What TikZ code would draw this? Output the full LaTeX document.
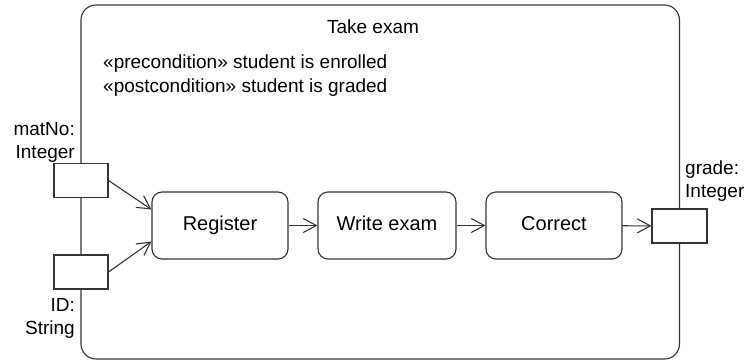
\documentclass[tikz,border=0pt]{standalone}
\usepackage{fontspec}
\setmainfont{Liberation Sans}
\usetikzlibrary{arrows.meta}
\begin{document}
\begin{tikzpicture}[x=1pt,y=-1pt,
  line/.style={draw=black!80,line width=1.1pt},
  txt/.style={font=\fontsize{19}{23}\selectfont,inner sep=0pt},
  action/.style={line,rounded corners=10pt,minimum width=136pt,minimum height=67pt,font=\fontsize{20}{23}\selectfont,text height=14pt,text depth=5pt},
  pin/.style={line,fill=white,minimum width=54pt,minimum height=34pt,inner sep=0pt},
  flow/.style={line,-{Straight Barb[length=13pt,width=14pt,line width=1.1pt]}}]
\useasboundingbox (0,0) rectangle (752,362);
\node[line,rounded corners=15pt,minimum width=598.5pt,minimum height=354pt,inner sep=0pt] (frame) at (380.25,182) {};
\node[txt] (title) at (373,27) {Take exam};
\node[txt,anchor=west,align=left,font=\fontsize{19}{24}\selectfont] (cond) at (103,76) {«precondition» student is enrolled\\«postcondition» student is graded};
\node[action] (reg) at (220,225.5) {Register};
\node[action,minimum width=138pt] (write) at (387,225.5) {Write exam};
\node[action] (corr) at (554,225.5) {Correct};
\node[pin] (in1) at (81,180.5) {};
\node[pin] (in2) at (81,272) {};
\node[pin,minimum width=55pt] (out) at (679.5,226) {};
\node[txt,anchor=east,align=right] (l1) at (75,142) {matNo:\\Integer};
\node[txt,anchor=east,align=right] (l2) at (75,318) {ID:\\String};
\node[txt,anchor=west,align=left] (l3) at (685,181) {grade:\\Integer};
\draw[flow] (in1.east) -- ([yshift=16pt]reg.west);
\draw[flow] (in2.east) -- ([yshift=-16pt]reg.west);
\draw[flow] (reg) -- (write);
\draw[flow] (write) -- (corr);
\draw[flow] (corr) -- (out);
\end{tikzpicture}
\end{document}
